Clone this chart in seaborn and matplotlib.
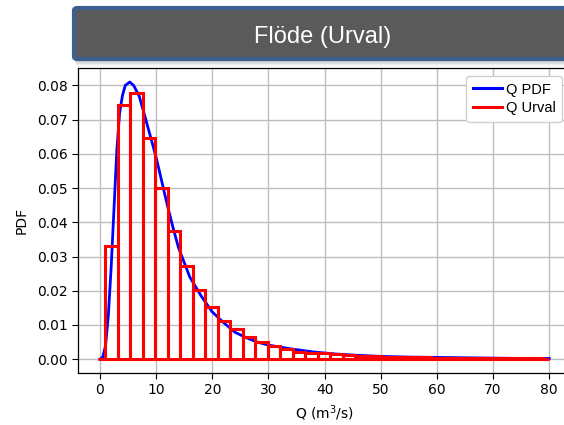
import numpy as np
import matplotlib
matplotlib.use("Agg")
import matplotlib.pyplot as plt
import seaborn as sns
from matplotlib.lines import Line2D
from matplotlib.patches import FancyBboxPatch

# ---------------- data ----------------
title_text = "Flöde (Urval)"
x_label = "Q (m$^3$/s)"
y_label = "PDF"
legend_labels = ["Q PDF", "Q Urval"]

# PDF curve points
pdf_x = [0.0, 0.5, 1.0, 1.5, 2.0, 2.5, 3.0, 3.5, 4.0, 4.5, 5.3, 6.0, 7.0, 8.0,
         9.0, 10.0, 11.0, 12.0, 13.0, 14.0, 16.0, 18.0, 20.0, 22.0, 24.0, 26.0,
         28.0, 30.0, 34.0, 38.0, 42.0, 46.0, 50.0, 55.0, 60.0, 65.0, 70.0,
         75.0, 80.0]
pdf_y = [0.0, 0.0006, 0.004, 0.013, 0.027, 0.044, 0.061, 0.072, 0.077, 0.080,
         0.081, 0.0800, 0.0768, 0.0710, 0.0650, 0.0590, 0.0520, 0.0450,
         0.0385, 0.0325, 0.0240, 0.0185, 0.0138, 0.0107, 0.0079, 0.0063,
         0.0050, 0.0041, 0.0030, 0.0021, 0.0015, 0.0011, 0.0008, 0.0006,
         0.0005, 0.0004, 0.0003, 0.0002, 0.0002]

# histogram bin edges and heights (density)
bin_edges = [-0.3, 0.9, 3.13, 5.36, 7.59, 9.82, 12.05, 14.28, 16.51, 18.74,
             20.97, 23.2, 25.43, 27.66, 29.89, 32.12, 34.35, 36.58, 38.81,
             41.04, 43.27, 45.5, 47.73, 49.96, 52.19, 54.42, 56.65, 58.88,
             61.11, 63.34, 65.57, 67.8, 70.03, 72.26, 74.49, 76.72, 78.95, 80.0]
bin_heights = [0.0, 0.0330, 0.0744, 0.0778, 0.0645, 0.0500, 0.0375, 0.0272,
               0.0201, 0.0153, 0.0112, 0.0087, 0.0066, 0.0049, 0.0039, 0.0030,
               0.0022, 0.0019, 0.0017, 0.0014, 0.0012, 0.0010, 0.0008, 0.0007,
               0.0006, 0.0005, 0.0005, 0.0004, 0.0004, 0.0003, 0.0003, 0.0003,
               0.0002, 0.0002, 0.0003, 0.0003, 0.0001]

x_ticks = [0, 10, 20, 30, 40, 50, 60, 70, 80]
y_ticks = [0.00, 0.01, 0.02, 0.03, 0.04, 0.05, 0.06, 0.07, 0.08]

# ---------------- figure ----------------
plt.rcParams['font.family'] = ['DejaVu Sans']
W, H = 564, 425
fig = plt.figure(figsize=(W / 100, H / 100), dpi=100)
fig.patch.set_facecolor("white")

ax_left, ax_right, ax_top, ax_bottom = 77.5, 571.7, 68, 373
ax = fig.add_axes([ax_left / W, 1 - ax_bottom / H,
                   (ax_right - ax_left) / W, (ax_bottom - ax_top) / H])
ax.set_facecolor("white")

sns.lineplot(x=pdf_x, y=pdf_y, color="blue", linewidth=2.0, ax=ax,
             estimator=None, sort=False, zorder=3)

edges = np.array(bin_edges)
centers = (edges[:-1] + edges[1:]) / 2
sns.histplot(x=centers, weights=bin_heights, bins=bin_edges, fill=False,
             color="red", linewidth=2.2, ax=ax, element="bars", zorder=4)

ax.set_xlim(-4, 84)
ax.set_ylim(-0.00405, 0.0851)
ax.set_xticks(x_ticks)
ax.set_yticks(y_ticks)
ax.set_yticklabels([f"{v:.2f}" for v in y_ticks])
ax.tick_params(labelsize=10, length=4, width=0.8, color="black", pad=3)
ax.grid(True, color="#bdbdbd", linewidth=1.0)
ax.set_axisbelow(True)
for s in ax.spines.values():
    s.set_color("black")
    s.set_linewidth(0.9)

ax.set_xlabel(x_label, fontsize=10, labelpad=5)
ax.set_ylabel(y_label, fontsize=10, labelpad=6)

handles = [Line2D([], [], color="blue", lw=2.2),
           Line2D([], [], color="red", lw=2.2)]
leg = ax.legend(handles, legend_labels, loc="upper right",
                bbox_to_anchor=((562 - ax_left) / (ax_right - ax_left),
                                1 - (76 - ax_top) / (ax_bottom - ax_top)),
                borderaxespad=0, prop={"family": "Liberation Sans", "size": 10.5},
                labelspacing=0.3, handlelength=2.0, handletextpad=0.25,
                borderpad=0.45, framealpha=1, edgecolor="#d0d0d0", fancybox=True)

# ---------------- title banner ----------------
bx0, bx1, by0, by1 = 74, 569, 8, 59
for i, a in enumerate([0.10, 0.08, 0.06, 0.04, 0.02]):
    off = 2 + i * 1.5
    sh = FancyBboxPatch((bx0 / W + 0.002, 1 - (by1 + off) / H),
                        (bx1 - bx0) / W, (by1 - by0) / H,
                        boxstyle="round,pad=0,rounding_size=0.006",
                        transform=fig.transFigure, facecolor="black",
                        edgecolor="none", alpha=a, zorder=9)
    fig.patches.append(sh)
box = FancyBboxPatch((bx0 / W, 1 - by1 / H), (bx1 - bx0) / W, (by1 - by0) / H,
                     boxstyle="round,pad=0,rounding_size=0.006",
                     transform=fig.transFigure, facecolor="#5a5a5a",
                     edgecolor="#3c5f8d", linewidth=3.0, zorder=10)
fig.patches.append(box)
fig.text(322.5 / W, 1 - 37 / H, title_text, color="white",
         family="Liberation Sans", fontsize=17, ha="center", va="center",
         zorder=11)

fig.savefig("out.png", dpi=100)
